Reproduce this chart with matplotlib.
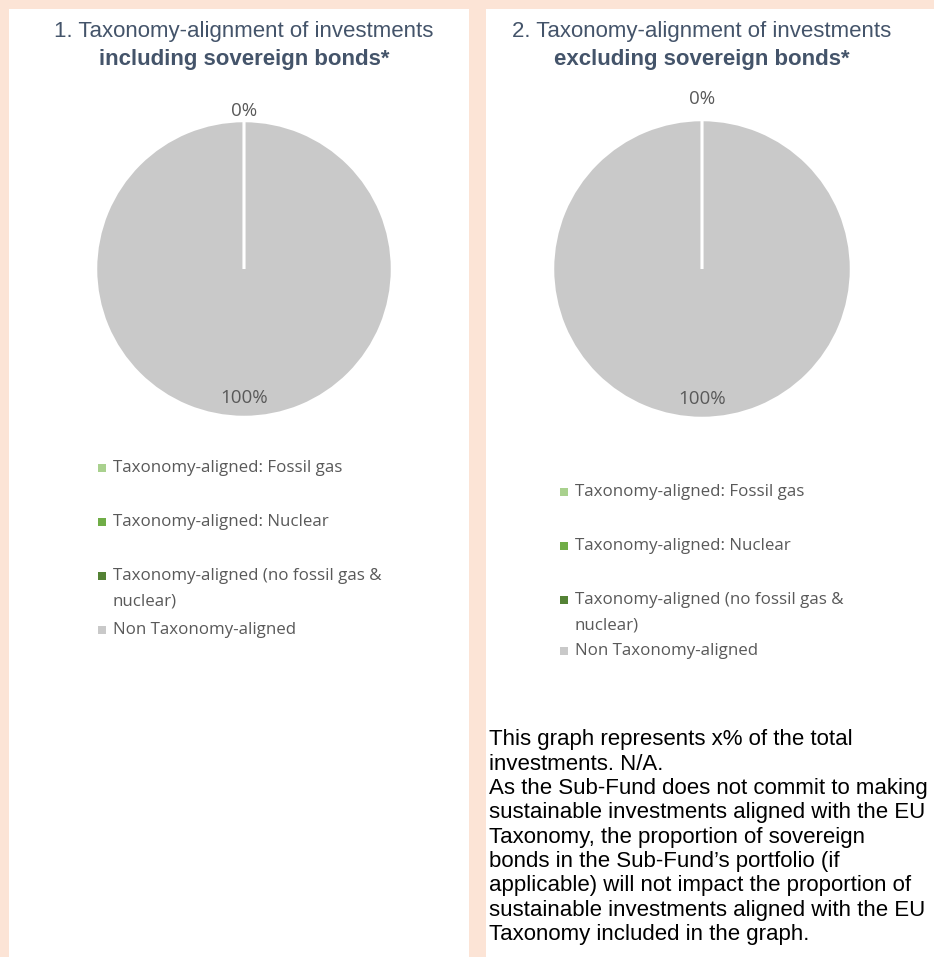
import matplotlib
matplotlib.use("Agg")
import numpy as np
import matplotlib.pyplot as plt
from matplotlib import font_manager
from matplotlib.patches import Rectangle

# data
categories = ["Taxonomy-aligned: Fossil gas",
              "Taxonomy-aligned: Nuclear",
              "Taxonomy-aligned (no fossil gas &\nnuclear)",
              "Non Taxonomy-aligned"]
colors = ["#A9D18E", "#70AD47", "#548235", "#C9C9C9"]
incl_values = [0, 0, 0, 100]
excl_values = [0, 0, 0, 100]
titles = [("1. Taxonomy-alignment of investments", "including sovereign bonds*"),
          ("2. Taxonomy-alignment of investments", "excluding sovereign bonds*")]
note_lines = ["This graph represents x% of the total",
              "investments. N/A.",
              "As the Sub-Fund does not commit to making",
              "sustainable investments aligned with the EU",
              "Taxonomy, the proportion of sovereign",
              "bonds in the Sub-Fund\u2019s portfolio (if",
              "applicable) will not impact the proportion of",
              "sustainable investments aligned with the EU",
              "Taxonomy included in the graph."]


def pick_font(names):
    for n in names:
        try:
            font_manager.findfont(n, fallback_to_default=False)
            return n
        except Exception:
            pass
    return "DejaVu Sans"


narrow = pick_font(["Liberation Sans Narrow", "Liberation Sans"])
sans = pick_font(["Open Sans", "Noto Sans"])

W, H = 934, 957
fig = plt.figure(figsize=(W / 100, H / 100), dpi=100)
fig.patch.set_facecolor("#FCE4D6")


def fx(px):
    return px / W


def fy(py):
    return 1 - py / H


# white panels (behind the axes)
fig.patches.append(Rectangle((fx(9), 0), fx(460), 1 - 9 / H, transform=fig.transFigure,
                             facecolor="white", edgecolor="none", zorder=-5))
fig.patches.append(Rectangle((fx(486), 0), 1 - fx(486), 1 - 9 / H, transform=fig.transFigure,
                             facecolor="white", edgecolor="none", zorder=-5))

# panel layout: pie centre, radius, 0% label radius, legend x, legend rows y
panels = [
    dict(values=incl_values, cx=244, cy=269, r=148, zero_r=1.07, title=titles[0],
         lx=102, tx=113, rows=[468, 522, 576, 630]),
    dict(values=excl_values, cx=702, cy=269, r=149, zero_r=1.14, title=titles[1],
         lx=564, tx=575, rows=[492, 546, 600, 651]),
]

for p in panels:
    ax = fig.add_axes([fx(p["cx"] - p["r"]), fy(p["cy"] + p["r"]), fx(2 * p["r"]), 2 * p["r"] / H])
    wedges, _ = ax.pie(p["values"], colors=colors, startangle=90, counterclock=False,
                       wedgeprops=dict(edgecolor="white", linewidth=1.8))
    ax.set_xlim(-1, 1)
    ax.set_ylim(-1, 1)
    ax.set_aspect("equal")
    ax.axis("off")

    # zero slices show only as a white separator: keep them above the full slice
    for w, v in zip(wedges, p["values"]):
        if v == 0:
            w.set_zorder(3)

    # percentage labels: one for the zero slices, one for the main slice
    total = sum(p["values"])
    shown = set()
    for w, v in zip(wedges, p["values"]):
        ang = np.deg2rad((w.theta1 + w.theta2) / 2)
        txt = f"{v / total * 100:.0f}%"
        if txt in shown:
            continue
        shown.add(txt)
        d = p["zero_r"] if v == 0 else 0.87
        ax.text(d * np.cos(ang), d * np.sin(ang), txt, ha="center", va="center",
                fontsize=13.5, color="#595959", family=sans, zorder=4)

    # titles
    fig.text(fx(p["cx"]), fy(31), p["title"][0], ha="center", va="center",
             fontsize=16, color="#44546A", family=narrow)
    fig.text(fx(p["cx"]), fy(59), p["title"][1], ha="center", va="center",
             fontsize=16, color="#44546A", family=narrow, weight="bold")

    # legend
    for lab, col, ry in zip(categories, colors, p["rows"]):
        fig.patches.append(Rectangle((fx(p["lx"] - 4), fy(ry + 4)), fx(8), 8 / H,
                                     transform=fig.transFigure, facecolor=col, edgecolor="none"))
        for j, part in enumerate(lab.split("\n")):
            fig.text(fx(p["tx"]), fy(ry + j * 26), part, ha="left", va="center",
                     fontsize=12.2, color="#595959", family=sans)

# note under the right chart
for i, line in enumerate(note_lines):
    fig.text(fx(489), fy(740 + i * 24.3), line, ha="left", va="center",
             fontsize=16, color="black", family=narrow)

fig.savefig("out.png", dpi=100, facecolor=fig.get_facecolor())
